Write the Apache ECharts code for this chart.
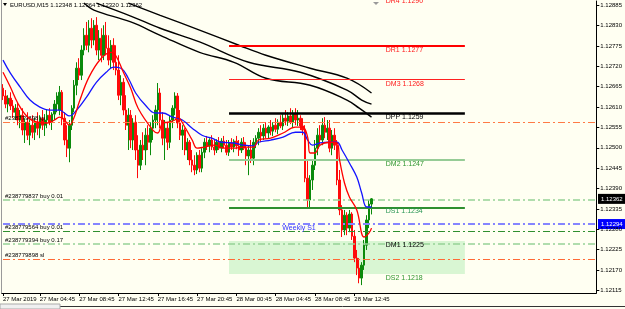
<!DOCTYPE html>
<html><head><meta charset="utf-8">
<script src="https://cdn.jsdelivr.net/npm/echarts@6/dist/echarts.min.js"></script>
<style>html,body{margin:0;padding:0;background:#fffff2;}#c{width:625px;height:309px;}</style>
</head><body><div id="c"></div>
<script>
// ---------- DATA ----------
const symbolTitle = 'EURUSD,M15';
const firstBarUTC = Date.UTC(2019, 2, 27, 1, 0); // 27 Mar 2019 01:00, M15 bars
const totalSlots = 242; // bars + empty right shift
const tickLabels = ['27 Mar 2019','27 Mar 04:45','27 Mar 08:45','27 Mar 12:45','27 Mar 16:45','27 Mar 20:45','28 Mar 00:45','28 Mar 04:45','28 Mar 08:45','28 Mar 12:45'];
const priceTicks = [1.12115,1.12170,1.12225,1.12280,1.12335,1.12390,1.12445,1.12500,1.12555,1.12610,1.12665,1.12720,1.12775,1.12830,1.12885];
const priceMin = 1.121077, priceMax = 1.128966;

const opens = [1.12661,1.12640,1.12618,1.12634,1.12613,1.12596,1.12607,1.12575,1.12588,1.12548,1.12569,1.12534,1.12561,1.12542,1.12569,1.12553,1.12580,1.12561,1.12575,1.12588,1.12569,1.12591,1.12618,1.12602,1.12650,1.12580,1.12521,1.12499,1.12561,1.12607,1.12669,1.12715,1.12696,1.12764,1.12804,1.12777,1.12823,1.12791,1.12831,1.12764,1.12796,1.12750,1.12804,1.12769,1.12737,1.12777,1.12731,1.12710,1.12642,1.12677,1.12602,1.12561,1.12588,1.12521,1.12569,1.12494,1.12453,1.12507,1.12494,1.12534,1.12515,1.12553,1.12575,1.12602,1.12648,1.12575,1.12526,1.12553,1.12515,1.12575,1.12607,1.12640,1.12567,1.12534,1.12548,1.12494,1.12515,1.12467,1.12453,1.12440,1.12480,1.12445,1.12488,1.12515,1.12505,1.12521,1.12502,1.12494,1.12515,1.12499,1.12518,1.12507,1.12488,1.12513,1.12502,1.12518,1.12505,1.12494,1.12515,1.12499,1.12478,1.12494,1.12472,1.12515,1.12526,1.12542,1.12532,1.12553,1.12540,1.12556,1.12545,1.12561,1.12550,1.12569,1.12559,1.12580,1.12572,1.12586,1.12569,1.12591,1.12575,1.12580,1.12559,1.12548,1.12418,1.12359,1.12413,1.12453,1.12499,1.12534,1.12521,1.12561,1.12542,1.12553,1.12499,1.12534,1.12507,1.12413,1.12332,1.12278,1.12318,1.12283,1.12321,1.12261,1.12202,1.12175,1.12148,1.12183,1.12237,1.12305,1.12348];
const closes = [1.12640,1.12618,1.12634,1.12613,1.12596,1.12607,1.12575,1.12588,1.12548,1.12569,1.12534,1.12561,1.12542,1.12569,1.12553,1.12580,1.12561,1.12575,1.12588,1.12569,1.12591,1.12618,1.12640,1.12650,1.12580,1.12521,1.12499,1.12561,1.12607,1.12669,1.12715,1.12696,1.12764,1.12804,1.12777,1.12823,1.12791,1.12831,1.12764,1.12796,1.12750,1.12804,1.12769,1.12737,1.12777,1.12731,1.12710,1.12642,1.12677,1.12602,1.12561,1.12588,1.12521,1.12569,1.12494,1.12453,1.12507,1.12494,1.12534,1.12515,1.12553,1.12575,1.12602,1.12648,1.12575,1.12526,1.12553,1.12515,1.12575,1.12607,1.12640,1.12567,1.12534,1.12548,1.12494,1.12515,1.12467,1.12453,1.12440,1.12480,1.12445,1.12488,1.12515,1.12505,1.12521,1.12502,1.12494,1.12515,1.12499,1.12518,1.12507,1.12488,1.12513,1.12502,1.12518,1.12505,1.12494,1.12515,1.12499,1.12478,1.12494,1.12472,1.12515,1.12526,1.12542,1.12532,1.12553,1.12540,1.12556,1.12545,1.12561,1.12550,1.12569,1.12559,1.12580,1.12572,1.12586,1.12569,1.12591,1.12575,1.12580,1.12559,1.12548,1.12418,1.12359,1.12413,1.12453,1.12499,1.12534,1.12521,1.12561,1.12542,1.12553,1.12499,1.12534,1.12507,1.12413,1.12332,1.12278,1.12318,1.12283,1.12321,1.12261,1.12202,1.12175,1.12148,1.12183,1.12237,1.12305,1.12348,1.12362];
const highs = [1.12672,1.12656,1.12642,1.12650,1.12629,1.12618,1.12623,1.12602,1.12607,1.12580,1.12596,1.12575,1.12588,1.12580,1.12596,1.12588,1.12602,1.12591,1.12602,1.12607,1.12596,1.12629,1.12650,1.12667,1.12656,1.12596,1.12561,1.12575,1.12615,1.12683,1.12731,1.12742,1.12777,1.12823,1.12840,1.12845,1.12850,1.12845,1.12853,1.12818,1.12823,1.12831,1.12840,1.12804,1.12791,1.12796,1.12777,1.12750,1.12696,1.12688,1.12642,1.12607,1.12602,1.12580,1.12588,1.12534,1.12521,1.12542,1.12553,1.12561,1.12569,1.12588,1.12615,1.12675,1.12661,1.12596,1.12575,1.12569,1.12588,1.12615,1.12650,1.12648,1.12602,1.12561,1.12553,1.12526,1.12521,1.12494,1.12480,1.12488,1.12494,1.12499,1.12526,1.12532,1.12526,1.12534,1.12521,1.12523,1.12529,1.12526,1.12532,1.12521,1.12521,1.12526,1.12523,1.12532,1.12521,1.12526,1.12529,1.12515,1.12507,1.12521,1.12526,1.12534,1.12553,1.12561,1.12564,1.12569,1.12561,1.12575,1.12569,1.12580,1.12577,1.12588,1.12591,1.12602,1.12596,1.12607,1.12602,1.12607,1.12602,1.12588,1.12580,1.12561,1.12467,1.12426,1.12467,1.12521,1.12553,1.12561,1.12580,1.12583,1.12575,1.12575,1.12548,1.12553,1.12521,1.12440,1.12345,1.12332,1.12326,1.12332,1.12326,1.12278,1.12224,1.12202,1.12191,1.12251,1.12318,1.12359,1.12364];
const lows = [1.12629,1.12607,1.12596,1.12602,1.12580,1.12575,1.12561,1.12553,1.12534,1.12513,1.12521,1.12507,1.12526,1.12521,1.12534,1.12526,1.12548,1.12532,1.12553,1.12561,1.12548,1.12575,1.12596,1.12588,1.12561,1.12507,1.12475,1.12461,1.12548,1.12596,1.12642,1.12683,1.12683,1.12750,1.12764,1.12758,1.12769,1.12777,1.12750,1.12737,1.12731,1.12737,1.12750,1.12723,1.12715,1.12710,1.12696,1.12629,1.12615,1.12588,1.12548,1.12494,1.12499,1.12494,1.12467,1.12418,1.12440,1.12467,1.12453,1.12494,1.12480,1.12521,1.12553,1.12561,1.12553,1.12507,1.12467,1.12494,1.12499,1.12553,1.12588,1.12553,1.12521,1.12494,1.12480,1.12467,1.12453,1.12434,1.12426,1.12429,1.12434,1.12434,1.12472,1.12494,1.12488,1.12494,1.12480,1.12486,1.12494,1.12488,1.12499,1.12480,1.12478,1.12494,1.12488,1.12496,1.12478,1.12486,1.12494,1.12453,1.12426,1.12459,1.12453,1.12499,1.12507,1.12515,1.12521,1.12526,1.12526,1.12534,1.12532,1.12542,1.12537,1.12553,1.12548,1.12561,1.12559,1.12564,1.12553,1.12561,1.12559,1.12548,1.12534,1.12407,1.12340,1.12340,1.12386,1.12440,1.12480,1.12507,1.12507,1.12526,1.12521,1.12488,1.12480,1.12494,1.12399,1.12318,1.12259,1.12264,1.12264,1.12272,1.12251,1.12191,1.12156,1.12134,1.12129,1.12170,1.12224,1.12283,1.12320];

// moving averages, [bar index, price]
const redMA = [[0,1.12704],[3,1.12664],[6,1.12621],[10,1.12583],[14,1.12569],[18,1.12567],[21,1.12575],[23,1.12583],[25,1.12575],[27,1.12561],[29,1.12583],[31,1.12623],[35,1.12691],[40,1.12742],[44,1.12758],[46,1.12748],[49,1.12704],[52,1.12661],[55,1.12607],[61,1.12548],[63,1.12540],[65,1.12567],[67,1.12569],[70,1.12575],[71,1.12583],[74,1.12556],[77,1.12521],[79,1.12499],[82,1.12502],[86,1.12507],[90,1.12499],[94,1.12499],[98,1.12502],[102,1.12502],[104,1.12521],[109,1.12526],[114,1.12540],[119,1.12556],[122,1.12556],[124,1.12529],[125,1.12486],[127,1.12486],[129,1.12507],[133,1.12515],[136,1.12513],[137,1.12467],[139,1.12405],[141,1.12367],[144,1.12332],[147,1.12259],[149,1.12270],[150,1.12283]];
const blueMA = [[0,1.12737],[3,1.12702],[7,1.12664],[11,1.12629],[15,1.12610],[19,1.12602],[23,1.12602],[25,1.12594],[27,1.12586],[30,1.12602],[34,1.12637],[38,1.12677],[42,1.12704],[45,1.12718],[48,1.12715],[51,1.12688],[54,1.12648],[58,1.12615],[62,1.12594],[65,1.12594],[69,1.12583],[73,1.12575],[77,1.12553],[81,1.12534],[85,1.12526],[89,1.12515],[94,1.12513],[98,1.12507],[102,1.12505],[104,1.12515],[109,1.12521],[114,1.12529],[119,1.12542],[122,1.12542],[124,1.12521],[126,1.12507],[129,1.12513],[133,1.12515],[136,1.12515],[138,1.12494],[141,1.12459],[144,1.12421],[146,1.12378],[148,1.12340],[150,1.12340]];
const slowTop = [[51,1.12891],[64,1.12858],[80,1.12818],[96,1.12777],[107,1.12750],[125,1.12715],[140,1.12688],[150,1.12648]];
const slowMid = [[38,1.12891],[52,1.12856],[64,1.12823],[80,1.12786],[100,1.12731],[121,1.12704],[140,1.12656],[146,1.12629],[150,1.12618]];
const slowBot = [[33,1.12891],[37,1.12872],[52,1.12840],[64,1.12804],[80,1.12758],[94,1.12731],[107,1.12688],[125,1.12669],[140,1.12629],[145,1.12607],[150,1.12583]];

// daily pivot levels (segments from bar levelStart to levelEnd)
const levelStart = 92, levelEnd = 188, levelLabelBar = 156;
const levelNames = ['DR1','DM3','DPP','DM2','DS1'];
const levelValues = [1.12775,1.12684,1.12593,1.12468,1.12339];
const labelNames = ['DR4','DR1','DM3','DPP','DM2','DS1','DM1','DS2'];
const labelValues = [1.1290,1.1277,1.1268,1.1259,1.1247,1.1234,1.1225,1.1218];
const labelAnchors = [1.12908,1.12775,1.12684,1.12593,1.12468,1.12339,1.12248,1.12159];
const zoneTop = 1.12248, zoneBottom = 1.12159;

// order lines
const orderNames = ['#238779898 tp','#238779837 buy 0.01','#238779564 buy 0.01','#238779394 buy 0.17','#238779898 sl'];
const orderPrices = [1.12569,1.12359,1.12275,1.12240,1.12199];
const weeklyS1 = 1.12294;

// ---------- STYLES ----------
const FONT = 'Liberation Sans';
const levelStyles = {
  DR1:{color:'#ff0000',width:2}, DM3:{color:'#ff2020',width:1},
  DPP:{color:'#000000',width:2.5}, DM2:{color:'#96cc96',width:2}, DS1:{color:'#2f8f2f',width:2}
};
const labelColors = {DR4:'#ff1a1a',DR1:'#ff1a1a',DM3:'#ff1a1a',DPP:'#000000',DM2:'#2f962f',DS1:'#2a9655',DM1:'#000000',DS2:'#2f962f'};
const orderColors = ['#ff7a45','#96d296','#2f8f2f','#96d296','#ff6a35'];
const orderWidths = [1,1.5,1,1.5,1];

// ---------- BUILD ----------
const mon = ['Jan','Feb','Mar','Apr','May','Jun','Jul','Aug','Sep','Oct','Nov','Dec'];
const pad = n => (n < 10 ? '0' : '') + n;
const cats = [];
for (let i = 0; i < totalSlots; i++) {
  const d = new Date(firstBarUTC + i * 900000);
  cats.push(d.getUTCDate() + ' ' + mon[d.getUTCMonth()] + ' ' + pad(d.getUTCHours()) + ':' + pad(d.getUTCMinutes()));
}
const tickSet = new Set(tickLabels);
const showTick = (idx, val) => idx === 0 || tickSet.has(val);
const candles = opens.map((o, i) => [o, closes[i], lows[i], highs[i]]);
const last = opens.length - 1;
const lastSlot = totalSlots - 1;

const levelLines = levelNames.map((n, k) => [
  {coord:[levelStart, levelValues[k]], lineStyle:{color:levelStyles[n].color, width:levelStyles[n].width, type:'solid'}},
  {coord:[levelEnd, levelValues[k]]}
]);
const dashDot = [7,3,2,3];
const orderLines = orderNames.map((n, k) => [
  {coord:[0, orderPrices[k]],
   lineStyle:{color:orderColors[k], width:orderWidths[k], type:dashDot},
   label:{show:true, formatter:n, position:'insideStartTop', distance:[2,1], color:'#000', fontSize:6, fontFamily:FONT}},
  {coord:[lastSlot, orderPrices[k]]}
]);
orderLines.push([
  {coord:[0, weeklyS1], lineStyle:{color:'#8585ff', width:2, type:dashDot},
   label:{show:true, formatter:'Weekly S1', position:'insideMiddleBottom', distance:1, color:'#3434ff', fontSize:7, fontFamily:FONT}},
  {coord:[lastSlot, weeklyS1]}
]);
const labelData = labelNames.map((n, k) => ({
  value:[levelLabelBar, labelAnchors[k]],
  label:{formatter: n + ' ' + labelValues[k].toFixed(4), color: labelColors[n]}
}));

const chart = echarts.init(document.getElementById('c'), null, {renderer:'canvas'});
const lineS = (data, color, width, z) => ({
  type:'line', data, smooth:0.4, symbol:'none', z, silent:true, animation:false,
  lineStyle:{color, width}
});
chart.setOption({
  backgroundColor:'#fffff2',
  animation:false,
  grid:{left:1, right:27, top:1, bottom:16, containLabel:false},
  xAxis:{
    type:'category', data:cats, boundaryGap:true,
    axisLine:{show:true, lineStyle:{color:'#000', width:1}},
    axisTick:{show:true, interval:showTick, alignWithLabel:true, length:3, lineStyle:{color:'#000'}},
    axisLabel:{interval:showTick, formatter:(v, i) => i === 0 ? tickLabels[0] : v, align:'left', hideOverlap:false,
      margin:3, fontSize:6, color:'#000', fontFamily:FONT},
    splitLine:{show:false}
  },
  yAxis:{
    type:'value', position:'right', min:priceMin, max:priceMax, scale:true,
    axisLine:{show:true, lineStyle:{color:'#000', width:1}},
    axisTick:{show:true, customValues:priceTicks, length:3, lineStyle:{color:'#000'}},
    axisLabel:{customValues:priceTicks, formatter:v => v.toFixed(5), margin:4, fontSize:6, color:'#000', fontFamily:FONT},
    splitLine:{show:false}
  },
  series:[
    {type:'line', data:[], z:1, silent:true,
     markArea:{silent:true, itemStyle:{color:'#d9f6d3'},
       data:[[{coord:[levelStart, zoneTop]},{coord:[levelEnd, zoneBottom]}]]}},
    {type:'line', data:[], z:2, silent:true,
     markLine:{silent:true, symbol:'none', animation:false, data:orderLines}},
    {type:'candlestick', data:candles, z:3, barWidth:2, silent:true,
     itemStyle:{color:'#0b8a0b', color0:'#ff0a0a', borderColor:'#0b8a0b', borderColor0:'#ff0a0a', borderWidth:1}},
    lineS(slowTop, '#000', 1.4, 4), lineS(slowMid, '#000', 1.4, 4), lineS(slowBot, '#000', 1.4, 4),
    lineS(blueMA, '#1414ff', 1.3, 5), lineS(redMA, '#ff0000', 1.3, 6),
    {type:'line', data:[], z:7, silent:true,
     markLine:{silent:true, symbol:'none', animation:false, label:{show:false}, data:levelLines}},
    {type:'scatter', data:labelData, symbolSize:1, z:8, silent:true, clip:false, itemStyle:{color:'rgba(0,0,0,0)'},
     label:{show:true, position:[0,1], align:'left', verticalAlign:'top', fontSize:7, fontFamily:FONT,
       opacity:1, textBorderWidth:0}}
  ]
});

// price boxes on the right axis and header
const yBid = chart.convertToPixel({yAxisIndex:0}, closes[last]);
const yWk = chart.convertToPixel({yAxisIndex:0}, weeklyS1);
const box = (y, bg, txt) => ({type:'group', x:598, y:y - 5, z:100, children:[
  {type:'rect', shape:{x:0, y:0, width:27, height:10}, style:{fill:bg}},
  {type:'text', x:3, y:2, style:{text:txt, fill:'#fff', fontSize:6, fontFamily:FONT}}
]});
chart.setOption({graphic:[
  {type:'text', left:10, top:2, z:100, style:{text: symbolTitle + ' ' + [opens[last], highs[last], lows[last], closes[last]].map(v => v.toFixed(5)).join(' '), fill:'#000', fontSize:6, fontFamily:FONT}},
  {type:'polygon', z:100, shape:{points:[[3,3],[7,3],[5,6]]}, style:{fill:'#000'}},
  {type:'polygon', z:100, shape:{points:[[373,2],[379,2],[376,5]]}, style:{fill:'#9a9a9a'}},
  {type:'line', z:100, shape:{x1:1.5, y1:0, x2:1.5, y2:293}, style:{stroke:'#9a9a9a', lineWidth:1}},
  {type:'line', z:100, shape:{x1:60, y1:306.5, x2:625, y2:306.5}, style:{stroke:'#333', lineWidth:1}},
  {type:'rect', z:100, shape:{x:0, y:304, width:60, height:5}, style:{fill:'#f0f0f0', stroke:'#aaa', lineWidth:1}},
  box(yBid, '#000', closes[last].toFixed(5)),
  box(yWk, '#0000ff', weeklyS1.toFixed(5))
]});
</script>
</body></html>
